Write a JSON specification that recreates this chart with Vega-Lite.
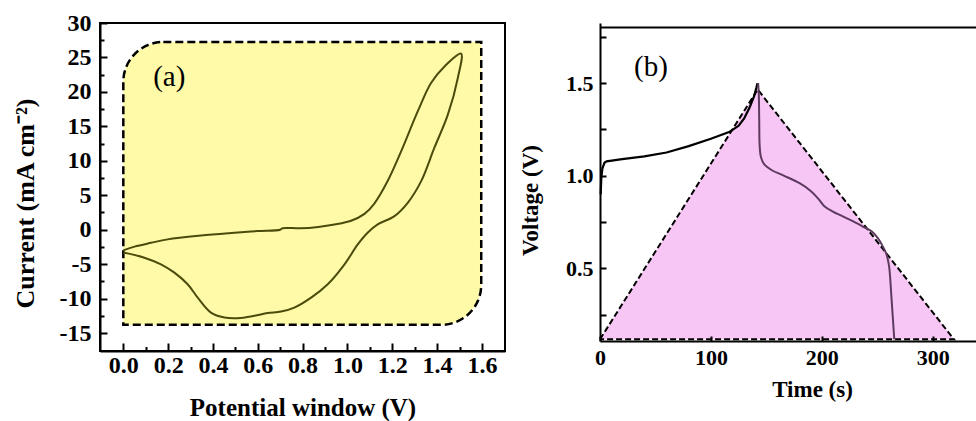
{
  "$schema": "https://vega.github.io/schema/vega-lite/v6.json",
  "background": "white",
  "padding": {"left": 11, "top": 10, "right": 0, "bottom": 0},
  "spacing": 95,
  "bounds": "flush",
  "config": {
    "font": "Liberation Serif",
    "view": {"stroke": null},
    "axis": {
      "grid": false, "domainColor": "black", "domainWidth": 2, "tickColor": "black", "tickWidth": 2,
      "labelColor": "black", "titleColor": "black", "labelFont": "Liberation Serif", "titleFont": "Liberation Serif",
      "labelFontWeight": "bold", "titleFontWeight": "bold", "labelOverlap": false, "labelFlush": false, "labelBound": false
    }
  },
  "datasets": {
    "box": [{"v0": 0, "v1": 1.597, "c0": -13.8, "c1": 27.25}],
    "cv": [
      {"o": 0, "v": 0, "c": -3.0}, {"o": 1, "v": 0.05, "c": -2.45}, {"o": 2, "v": 0.124, "c": -1.9},
      {"o": 3, "v": 0.198, "c": -1.4}, {"o": 4, "v": 0.347, "c": -0.85}, {"o": 5, "v": 0.496, "c": -0.45},
      {"o": 6, "v": 0.6, "c": -0.2}, {"o": 7, "v": 0.7, "c": 0.0}, {"o": 8, "v": 0.71, "c": 0.22},
      {"o": 9, "v": 0.79, "c": 0.2}, {"o": 10, "v": 0.87, "c": 0.4}, {"o": 11, "v": 0.942, "c": 0.75},
      {"o": 12, "v": 1.016, "c": 1.3}, {"o": 13, "v": 1.076, "c": 2.3}, {"o": 14, "v": 1.12, "c": 3.8},
      {"o": 15, "v": 1.18, "c": 7.1}, {"o": 16, "v": 1.24, "c": 11.4}, {"o": 17, "v": 1.314, "c": 17.2},
      {"o": 18, "v": 1.373, "c": 21.3}, {"o": 19, "v": 1.433, "c": 23.7}, {"o": 20, "v": 1.507, "c": 25.56},
      {"o": 21, "v": 1.493, "c": 22.1}, {"o": 22, "v": 1.448, "c": 16.7}, {"o": 23, "v": 1.388, "c": 11.9},
      {"o": 24, "v": 1.329, "c": 7.05}, {"o": 25, "v": 1.269, "c": 3.91}, {"o": 26, "v": 1.21, "c": 1.98},
      {"o": 27, "v": 1.135, "c": 0.77}, {"o": 28, "v": 1.09, "c": -0.43}, {"o": 29, "v": 1.046, "c": -2.13},
      {"o": 30, "v": 0.987, "c": -5.02}, {"o": 31, "v": 0.912, "c": -7.92}, {"o": 32, "v": 0.838, "c": -9.86},
      {"o": 33, "v": 0.763, "c": -11.3}, {"o": 34, "v": 0.704, "c": -11.88}, {"o": 35, "v": 0.644, "c": -12.1},
      {"o": 36, "v": 0.585, "c": -12.5}, {"o": 37, "v": 0.51, "c": -12.85}, {"o": 38, "v": 0.451, "c": -12.75},
      {"o": 39, "v": 0.391, "c": -12.03}, {"o": 40, "v": 0.332, "c": -9.86}, {"o": 41, "v": 0.287, "c": -7.92},
      {"o": 42, "v": 0.228, "c": -6.23}, {"o": 43, "v": 0.168, "c": -5.02}, {"o": 44, "v": 0.094, "c": -4.06},
      {"o": 45, "v": 0.019, "c": -3.43}, {"o": 46, "v": 0, "c": -3.33}
    ],
    "lbla": [{"v": 0.205, "c": 22.1, "label": "(a)"}],
    "tri": [{"t": 0, "v": 0.117, "base": 0.117}, {"t": 142.2, "v": 1.466, "base": 0.117}, {"t": 319.2, "v": 0.117, "base": 0.117}],
    "triedge": [{"o": 0, "t": 0, "v": 0.117}, {"o": 1, "t": 142.2, "v": 1.466}, {"o": 2, "t": 319.2, "v": 0.117}, {"o": 3, "t": 0, "v": 0.117}],
    "charge": [
      {"t": 0.6, "v": 0.9}, {"t": 1.2, "v": 0.99}, {"t": 2.2, "v": 1.04}, {"t": 4, "v": 1.07}, {"t": 6, "v": 1.078},
      {"t": 20, "v": 1.09}, {"t": 40, "v": 1.105}, {"t": 60, "v": 1.126}, {"t": 80, "v": 1.16}, {"t": 100, "v": 1.2},
      {"t": 117, "v": 1.238}, {"t": 125, "v": 1.27}, {"t": 130, "v": 1.31}, {"t": 135, "v": 1.37},
      {"t": 139, "v": 1.43}, {"t": 141, "v": 1.475}, {"t": 142.0, "v": 1.5}
    ],
    "discharge": [
      {"t": 142.6, "v": 1.5}, {"t": 143.2, "v": 1.44}, {"t": 143.6, "v": 1.3}, {"t": 144.0, "v": 1.16},
      {"t": 145.2, "v": 1.1}, {"t": 148.2, "v": 1.061}, {"t": 155, "v": 1.03}, {"t": 166.2, "v": 1.0},
      {"t": 180, "v": 0.96}, {"t": 190.3, "v": 0.917}, {"t": 197, "v": 0.875}, {"t": 202.3, "v": 0.836},
      {"t": 210, "v": 0.807}, {"t": 217.3, "v": 0.786}, {"t": 228, "v": 0.755}, {"t": 238.3, "v": 0.722},
      {"t": 245, "v": 0.7}, {"t": 250.4, "v": 0.665}, {"t": 254, "v": 0.63}, {"t": 257.9, "v": 0.584},
      {"t": 259.5, "v": 0.55}, {"t": 260.9, "v": 0.503}, {"t": 263, "v": 0.33}, {"t": 265.4, "v": 0.117}
    ],
    "lblb": [{"t": 46, "v": 1.586, "label": "(b)"}]
  },
  "hconcat": [
    {
      "width": 405,
      "height": 328,
      "view": {"stroke": "black", "strokeWidth": 2},
      "resolve": {"axis": {"x": "independent", "y": "independent"}},
      "layer": [
        {
          "data": {"name": "box"},
          "mark": {"type": "rect", "fill": "#FEFAA8", "stroke": "black", "strokeDash": [8, 4], "strokeWidth": 2.5, "cornerRadiusTopLeft": 40, "cornerRadiusBottomRight": 40},
          "encoding": {
            "x": {
              "field": "v0", "type": "quantitative",
              "scale": {"domain": [-0.104, 1.703], "nice": false, "zero": false},
              "axis": {
                "values": [0, 0.2, 0.4, 0.6, 0.8, 1.0, 1.2, 1.4, 1.6], "format": ".1f", "ticks": false,
                "labelFontSize": 24, "labelPadding": 2, "labelOverlap": false,
                "title": "Potential window (V)", "titleFontSize": 25, "titlePadding": 18
              }
            },
            "x2": {"field": "v1"},
            "y": {
              "field": "c0", "type": "quantitative",
              "scale": {"domain": [-17.6, 30], "nice": false, "zero": false},
              "axis": {
                "values": [-15, -10, -5, 0, 5, 10, 15, 20, 25, 30], "ticks": false,
                "labelExpr": "'' + datum.value",
                "labelFontSize": 24, "labelPadding": 9, "labelOverlap": false,
                "title": "Current (mA cm⁻²)", "titleFontSize": 26, "titlePadding": 21, "titleY": 180
              }
            },
            "y2": {"field": "c1"}
          }
        },
        {
          "data": {"name": "cv"},
          "mark": {"type": "line", "color": "#4B4B0C", "strokeWidth": 2, "interpolate": "catmull-rom"},
          "encoding": {
            "x": {"field": "v", "type": "quantitative", "axis": {"orient": "top", "offset": -328, "zindex": 2, "values": [0, 0.2, 0.4, 0.6, 0.8, 1.0, 1.2, 1.4, 1.6], "ticks": true, "tickSize": 8, "labels": false, "domain": false, "title": null}},
            "y": {"field": "c", "type": "quantitative", "axis": {"orient": "right", "offset": -405, "zindex": 2, "values": [-15, -10, -5, 0, 5, 10, 15, 20, 25, 30], "ticks": true, "tickSize": 7, "labels": false, "domain": false, "title": null}},
            "order": {"field": "o", "type": "quantitative"}
          }
        },
        {
          "data": {"name": "lbla"},
          "mark": {"type": "text", "font": "Liberation Serif", "fontSize": 29, "color": "black", "align": "center", "baseline": "middle"},
          "encoding": {
            "x": {"field": "v", "type": "quantitative", "axis": {"orient": "top", "offset": -328, "zindex": 2, "values": [0.1, 0.3, 0.5, 0.7, 0.9, 1.1, 1.3, 1.5], "ticks": true, "tickSize": 4.5, "labels": false, "domain": false, "title": null}},
            "y": {"field": "c", "type": "quantitative", "axis": {"orient": "right", "offset": -405, "zindex": 2, "values": [-12.5, -7.5, -2.5, 2.5, 7.5, 12.5, 17.5, 22.5, 27.5], "ticks": true, "tickSize": 4, "labels": false, "domain": false, "title": null}},
            "text": {"field": "label"}
          }
        }
      ]
    },
    {
      "width": 377,
      "height": 318,
      "resolve": {"axis": {"x": "independent", "y": "independent"}},
      "layer": [
        {
          "data": {"name": "tri"},
          "mark": {"type": "area", "color": "#F8C6F5", "opacity": 1},
          "encoding": {
            "x": {
              "field": "t", "type": "quantitative",
              "scale": {"domain": [0, 340], "nice": false, "zero": false},
              "axis": {
                "values": [0, 100, 200, 300], "format": "d", "ticks": false,
                "labelFontSize": 22, "labelPadding": 6.5, "labelOverlap": false,
                "title": "Time (s)", "titleFontSize": 23, "titlePadding": 10, "titleX": 212
              }
            },
            "y": {
              "field": "v", "type": "quantitative",
              "scale": {"domain": [0.108, 1.825], "nice": false, "zero": false},
              "axis": {
                "values": [0.5, 1.0, 1.5], "format": ".1f", "ticks": false,
                "labelFontSize": 22, "labelPadding": 7, "labelOverlap": false,
                "title": "Voltage (V)", "titleFontSize": 23, "titlePadding": 23, "titleY": 177
              }
            },
            "y2": {"field": "base"}
          }
        },
        {
          "data": {"name": "triedge"},
          "mark": {"type": "line", "color": "black", "strokeDash": [6, 3], "strokeWidth": 2},
          "encoding": {
            "x": {"field": "t", "type": "quantitative", "axis": {"orient": "top", "offset": -318, "zindex": 2, "values": [0, 100, 200, 300], "ticks": true, "tickSize": 5, "labels": false, "domain": false, "title": null}},
            "y": {"field": "v", "type": "quantitative", "axis": null},
            "order": {"field": "o", "type": "quantitative"}
          }
        },
        {
          "data": {"name": "charge"},
          "mark": {"type": "line", "color": "black", "strokeWidth": 2.2},
          "encoding": {
            "x": {"field": "t", "type": "quantitative", "axis": null},
            "y": {"field": "v", "type": "quantitative", "axis": {"orient": "right", "offset": -377, "zindex": 2, "values": [0.25, 0.5, 0.75, 1.0, 1.25, 1.5, 1.75], "ticks": true, "tickSize": 6, "labels": false, "domain": false, "title": null}}
          }
        },
        {
          "data": {"name": "discharge"},
          "mark": {"type": "line", "color": "#5E3A5E", "strokeWidth": 2, "interpolate": "catmull-rom"},
          "encoding": {
            "x": {"field": "t", "type": "quantitative", "axis": null},
            "y": {"field": "v", "type": "quantitative", "axis": null}
          }
        },
        {
          "data": {"name": "lblb"},
          "mark": {"type": "text", "font": "Liberation Serif", "fontSize": 29, "color": "black", "align": "center", "baseline": "middle"},
          "encoding": {
            "x": {"field": "t", "type": "quantitative", "axis": {"orient": "top", "labels": false, "ticks": false, "title": null, "domain": true, "offset": -4}},
            "y": {"field": "v", "type": "quantitative", "axis": null},
            "text": {"field": "label"}
          }
        }
      ]
    }
  ]
}
